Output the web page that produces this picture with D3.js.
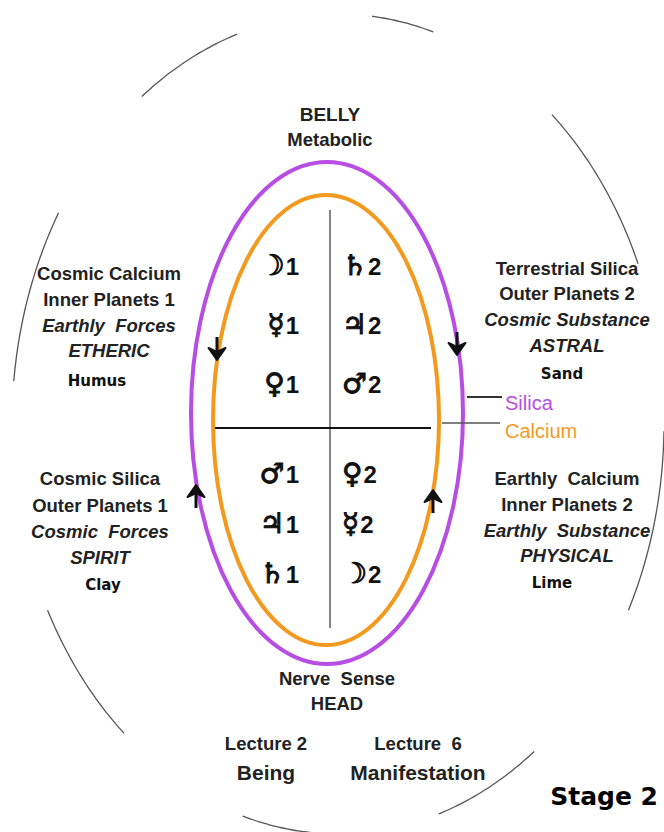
<!DOCTYPE html>
<html>
<head>
<meta charset="utf-8">
<script src="https://cdn.jsdelivr.net/npm/d3@7"></script>
<style>
  body { margin: 0; background: #fff; }
  svg { display: block; }
  .lbl { font-family: "Liberation Sans", Arial, sans-serif; font-weight: bold; fill: #222; white-space: pre; }
  .soil { font-family: "DejaVu Sans", sans-serif; font-weight: bold; fill: #111; }
</style>
</head>
<body>
<div id="chart"></div>
<script>
// planets per quadrant column, top to bottom
const leftPlanets = ['\u263D', '\u263F', '\u2640', '\u2642', '\u2643', '\u2644'];
const rightPlanets = ['\u2644', '\u2643', '\u2642', '\u2640', '\u263F', '\u263D'];
const leftNumber = '1';
const rightNumber = '2';

// text blocks around the ellipse
const topLeftLabels = ['Cosmic Calcium', 'Inner Planets 1', 'Earthly  Forces', 'ETHERIC'];
const bottomLeftLabels = ['Cosmic Silica', 'Outer Planets 1', 'Cosmic  Forces', 'SPIRIT'];
const topRightLabels = ['Terrestrial Silica', 'Outer Planets 2', 'Cosmic Substance', 'ASTRAL'];
const bottomRightLabels = ['Earthly  Calcium', 'Inner Planets 2', 'Earthly  Substance', 'PHYSICAL'];
const soils = ['Humus', 'Clay', 'Sand', 'Lime'];
const topLabels = ['BELLY', 'Metabolic'];
const bottomLabels = ['Nerve  Sense', 'HEAD'];
const lectures = ['Lecture 2', 'Lecture  6'];
const lectureNames = ['Being', 'Manifestation'];
const elements = ['Silica', 'Calcium'];
const elementColors = ['#b84de4', '#f39a1e'];
const stageLabel = 'Stage 2';

// visible pieces of the outer boundary, as start/end angle in degrees
const outerArcs = [[-127, -108], [-84, -73], [-49, -23], [1, 27], [53, 72], [93, 107], [131, 153], [186, 211]];

const W = 664, H = 832;
const svg = d3.select('#chart').append('svg').attr('width', W).attr('height', H);

// outer broken boundary
const outer = {cx: 338, cy: 424, rx: 326, ry: 410};
const line = d3.line().curve(d3.curveBasis);
const rad = d3.scaleLinear().domain([0, 180]).range([0, Math.PI]);
outerArcs.forEach(a => {
  const pts = d3.range(a[0], a[1] + 0.5, 1).map(t => [
    outer.cx + outer.rx * Math.cos(rad(t)),
    outer.cy + outer.ry * Math.sin(rad(t))
  ]);
  svg.append('path')
    .attr('d', line(pts))
    .attr('fill', 'none')
    .attr('stroke', '#555')
    .attr('stroke-width', 1.3);
});

// the two ellipses
svg.append('ellipse')
  .attr('cx', 327).attr('cy', 413).attr('rx', 136).attr('ry', 251)
  .attr('fill', 'none').attr('stroke', elementColors[0]).attr('stroke-width', 4);
svg.append('ellipse')
  .attr('cx', 326).attr('cy', 420).attr('rx', 113).attr('ry', 225)
  .attr('fill', 'none').attr('stroke', elementColors[1]).attr('stroke-width', 4);

// cross lines
svg.append('line').attr('x1', 330).attr('x2', 330).attr('y1', 210).attr('y2', 628)
  .attr('stroke', '#444').attr('stroke-width', 1.3);
svg.append('line').attr('x1', 215).attr('x2', 431).attr('y1', 428).attr('y2', 428)
  .attr('stroke', '#111').attr('stroke-width', 2.2);

// pointer lines for the legend
svg.append('line').attr('x1', 467).attr('x2', 502).attr('y1', 397).attr('y2', 397)
  .attr('stroke', '#333').attr('stroke-width', 2);
svg.append('line').attr('x1', 442).attr('x2', 500).attr('y1', 423).attr('y2', 423)
  .attr('stroke', '#555').attr('stroke-width', 1.3);

svg.selectAll('.element')
  .data(elements)
  .enter()
  .append('text')
  .attr('class', 'element')
  .attr('x', 505)
  .attr('y', (d, i) => 410 + i * 28)
  .attr('font-family', '"Liberation Sans", Arial, sans-serif')
  .attr('font-size', 20)
  .attr('fill', (d, i) => elementColors[i])
  .text(d => d);

// direction arrows
function arrow(x, tip, dir) {
  // dir = 1 points down, -1 points up
  const len = 23;
  svg.append('line')
    .attr('x1', x).attr('x2', x)
    .attr('y1', tip - dir * len).attr('y2', tip - dir * 5)
    .attr('stroke', '#111').attr('stroke-width', 3);
  svg.append('path')
    .attr('d', `M${x},${tip} L${x - 8.5},${tip - dir * 12} L${x},${tip - dir * 8} L${x + 8.5},${tip - dir * 12} Z`)
    .attr('fill', '#111').attr('stroke', '#111').attr('stroke-width', 2)
    .attr('stroke-linejoin', 'round');
}
arrow(217, 360, 1);
arrow(457, 355, 1);
arrow(196, 485, -1);
arrow(433, 490, -1);

// planet rows
const upperRows = d3.scalePoint().domain([0, 1, 2]).range([275, 393]);
const lowerRows = d3.scalePoint().domain([3, 4, 5]).range([483, 583]);
const rowY = i => i < 3 ? upperRows(i) : lowerRows(i);

function planetColumn(list, num, x, anchor) {
  const t = svg.selectAll(null)
    .data(list)
    .enter()
    .append('text')
    .attr('x', x)
    .attr('y', (d, i) => rowY(i))
    .attr('text-anchor', anchor)
    .attr('fill', '#111');
  t.append('tspan')
    .attr('font-family', '"DejaVu Sans", sans-serif')
    .attr('font-size', 28)
    .attr('stroke', '#111')
    .attr('stroke-width', 1)
    .text(d => d + '\uFE0E');
  t.append('tspan')
    .attr('font-family', '"Liberation Sans", Arial, sans-serif')
    .attr('font-weight', 'bold')
    .attr('font-size', 24)
    .attr('dx', 1)
    .text(num);
}
planetColumn(leftPlanets, leftNumber, 299, 'end');
planetColumn(rightPlanets, rightNumber, 342, 'start');

// quadrant text blocks
function block(lines, cx, baselines) {
  svg.selectAll(null)
    .data(lines)
    .enter()
    .append('text')
    .attr('class', 'lbl')
    .attr('x', cx)
    .attr('y', (d, i) => baselines[i])
    .attr('text-anchor', 'middle')
    .attr('font-size', 18.5)
    .attr('font-style', (d, i) => i >= 2 ? 'italic' : 'normal')
    .text(d => d);
}
block(topLeftLabels, 109, [280, 306, 332, 357]);
block(bottomLeftLabels, 100, [485, 512, 538, 564]);
block(topRightLabels, 567, [275, 300, 326, 352]);
block(bottomRightLabels, 567, [485, 511, 537, 562]);

// soil names
const soilPos = [[97, 386], [103, 590], [562, 379], [552, 588]];
svg.selectAll('.soil')
  .data(soils)
  .enter()
  .append('text')
  .attr('class', 'soil')
  .attr('x', (d, i) => soilPos[i][0])
  .attr('y', (d, i) => soilPos[i][1])
  .attr('text-anchor', 'middle')
  .attr('font-size', 15)
  .text(d => d);

// top and bottom poles
svg.selectAll(null)
  .data(topLabels)
  .enter()
  .append('text')
  .attr('class', 'lbl')
  .attr('x', 330)
  .attr('y', (d, i) => 121 + i * 25)
  .attr('text-anchor', 'middle')
  .attr('font-size', (d, i) => i === 0 ? 19 : 18.5)
  .text(d => d);

svg.selectAll(null)
  .data(bottomLabels)
  .enter()
  .append('text')
  .attr('class', 'lbl')
  .attr('x', 337)
  .attr('y', (d, i) => 685 + i * 25)
  .attr('text-anchor', 'middle')
  .attr('font-size', 18.5)
  .text(d => d);

// lectures
const lectureX = d3.scalePoint().domain([0, 1]).range([266, 418]);
svg.selectAll(null)
  .data(lectures)
  .enter()
  .append('text')
  .attr('class', 'lbl')
  .attr('x', (d, i) => lectureX(i))
  .attr('y', 750)
  .attr('text-anchor', 'middle')
  .attr('font-size', 18.5)
  .text(d => d);
svg.selectAll(null)
  .data(lectureNames)
  .enter()
  .append('text')
  .attr('class', 'lbl')
  .attr('x', (d, i) => lectureX(i))
  .attr('y', 780)
  .attr('text-anchor', 'middle')
  .attr('font-size', 21)
  .text(d => d);

svg.append('text')
  .attr('x', 658)
  .attr('y', 805)
  .attr('text-anchor', 'end')
  .attr('font-family', '"DejaVu Sans", sans-serif')
  .attr('font-weight', 'bold')
  .attr('font-size', 25)
  .attr('fill', '#000')
  .text(stageLabel);
</script>
</body>
</html>
